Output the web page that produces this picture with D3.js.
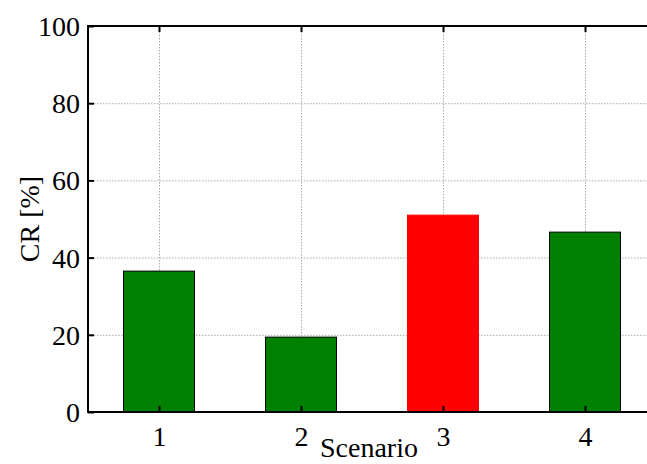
<!DOCTYPE html>
<html><head><meta charset="utf-8">
<script src="https://cdn.jsdelivr.net/npm/d3@7"></script>
<style>body{margin:0;background:#fff}svg{display:block}</style>
</head><body>
<script>
const categories = [1, 2, 3, 4];
const values = [36.5, 19.4, 51.0, 46.6];
const colors = ["#008000", "#008000", "#ff0000", "#008000"];
const yTicks = [0, 20, 40, 60, 80, 100];

const W = 647, H = 464;
const m = {left: 88, top: 26, bottom: 412, right: 656};
const svg = d3.select("body").append("svg").attr("width", W).attr("height", H);
const x = d3.scaleLinear().domain([0.5, 4.5]).range([m.left, m.right]);
const y = d3.scaleLinear().domain([0, 100]).range([m.bottom, m.top]);
const font = "'Liberation Serif', 'Times New Roman', serif";
const fs = 28;

// grid
const grid = svg.append("g").attr("stroke", "#aaa").attr("stroke-width", 1).attr("stroke-dasharray", "1.5,1.5");
grid.selectAll("line.h").data(yTicks).enter().append("line")
  .attr("x1", m.left).attr("x2", m.right).attr("y1", d => y(d) + 0.5).attr("y2", d => y(d) + 0.5);
grid.selectAll("line.v").data(categories).enter().append("line")
  .attr("y1", m.top).attr("y2", m.bottom).attr("x1", d => Math.round(x(d)) + 0.5).attr("x2", d => Math.round(x(d)) + 0.5);

// bars
const bw = x(1.5) - x(1.0);
svg.selectAll("rect.bar").data(categories).enter().append("rect")
  .attr("x", (d) => x(d) - bw / 2)
  .attr("width", bw)
  .attr("y", (d, i) => y(values[i]))
  .attr("height", (d, i) => y(0) - y(values[i]))
  .attr("fill", (d, i) => colors[i])
  .attr("stroke", (d, i) => colors[i] === "#ff0000" ? "#ff0000" : "#000")
  .attr("stroke-width", 1);

// axes
const yAxis = d3.axisLeft(y).tickValues(yTicks).tickSize(-6).tickPadding(8).tickFormat(d3.format("d"));
const gy = svg.append("g").attr("transform", `translate(${m.left},0)`).call(yAxis);
const xAxis = d3.axisBottom(x).tickValues(categories).tickSize(-6).tickPadding(14).tickFormat(d3.format("d"));
const gx = svg.append("g").attr("transform", `translate(0,${m.bottom})`).call(xAxis);
const xTop = d3.axisTop(x).tickValues(categories).tickSize(-6).tickFormat("");
const gt = svg.append("g").attr("transform", `translate(0,${m.top})`).call(xTop);
[gy, gx, gt].forEach(g => {
  g.select(".domain").remove();
  g.selectAll(".tick line").attr("stroke", "#000").attr("stroke-width", 2);
  g.selectAll(".tick text").attr("font-family", font).attr("font-size", fs).attr("fill", "#000");
});
gy.selectAll(".tick text").attr("dy", "0.34em");

// frame
svg.append("path").attr("d", `M${m.right},${m.top}H${m.left}V${m.bottom}H${m.right}`)
  .attr("fill", "none").attr("stroke", "#000").attr("stroke-width", 2);

// labels
svg.append("text").attr("x", 369).attr("y", 457).attr("text-anchor", "middle")
  .attr("font-family", font).attr("font-size", fs).text("Scenario");
svg.append("text").attr("transform", `translate(39,${(m.top + m.bottom) / 2}) rotate(-90)`).attr("text-anchor", "middle")
  .attr("font-family", font).attr("font-size", fs).text("CR [%]");
</script>
</body></html>
